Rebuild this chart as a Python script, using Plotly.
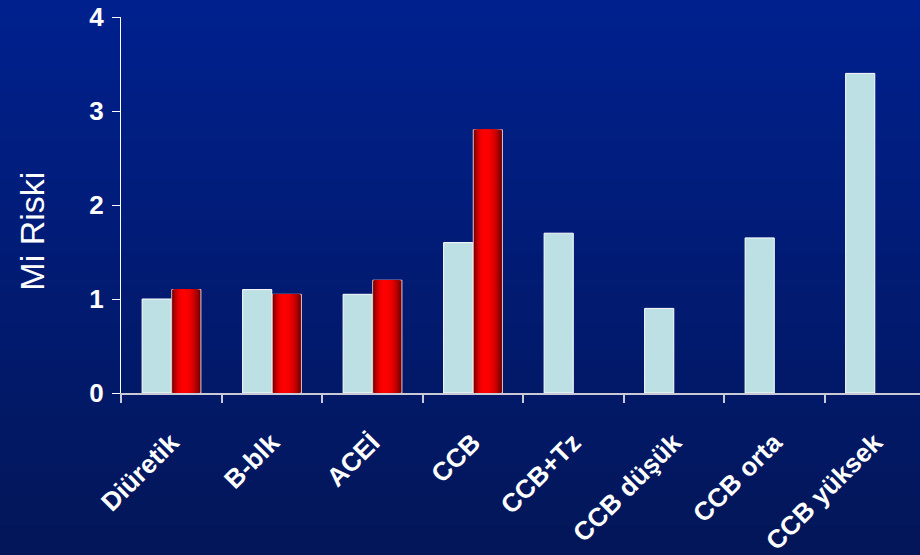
import plotly.graph_objects as go

# Drug classes and MI risk values
categories = ["Diüretik", "B-blk", "ACEİ", "CCB", "CCB+Tz", "CCB düşük", "CCB orta", "CCB yüksek"]
risk_light = [1.0, 1.1, 1.05, 1.6, 1.7, 0.9, 1.65, 3.4]
risk_red = [1.1, 1.05, 1.2, 2.8, None, None, None, None]
y_ticks = [0, 1, 2, 3, 4]

BAR_W = 0.29
LIGHT = "#bde0e4"
FONT = "Liberation Sans, Arial, sans-serif"

fig = go.Figure()

# light bars, left slot of each category
fig.add_trace(go.Bar(
    x=categories, y=risk_light, width=BAR_W, offset=-BAR_W,
    marker=dict(color=LIGHT, line=dict(color="#ffffff", width=1)),
    hoverinfo="skip", showlegend=False,
))

# red bars in the right slot, shaded like a cylinder with nested layers
N = 16
dark = (105, 0, 0)
bright = (255, 0, 0)
left = 0.005
for k in range(N):
    d = 1 - k / N            # half-width fraction of this layer
    t = 1 - d ** 2.4         # brightness rises towards the middle
    w = BAR_W * d
    mid = left + BAR_W * (0.5 - 0.1 * (1 - d))
    col = tuple(int(dark[i] + (bright[i] - dark[i]) * t) for i in range(3))
    line = dict(color="#f0c8c8", width=1) if k == 0 else dict(width=0)
    fig.add_trace(go.Bar(
        x=categories, y=risk_red, width=w, offset=mid - w / 2,
        marker=dict(color="rgb(%d,%d,%d)" % col, line=line),
        hoverinfo="skip", showlegend=False,
    ))

# vertical background gradient over the whole page
shapes = []
S = 90
top = (0, 32, 142)
bot = (3, 22, 88)
y_top, y_bot = 1.05, -0.44
for i in range(S):
    f = i / (S - 1)
    c = tuple(int(round(top[j] + (bot[j] - top[j]) * f)) for j in range(3))
    ya = y_top - (y_top - y_bot) * i / S
    yb = y_top - (y_top - y_bot) * (i + 1) / S
    shapes.append(dict(
        type="rect", xref="paper", yref="paper", x0=-0.2, x1=1.05,
        y0=yb - 0.002, y1=ya, fillcolor="rgb(%d,%d,%d)" % c,
        line=dict(width=0), layer="below",
    ))

fig.update_layout(
    width=920, height=555,
    margin=dict(l=121, r=0, t=17, b=162),
    barmode="overlay",
    paper_bgcolor="rgb(2,26,110)",
    plot_bgcolor="rgba(0,0,0,0)",
    shapes=shapes,
    font=dict(family=FONT, color="white"),
    annotations=[dict(
        text="Mi Riski", textangle=-90, showarrow=False,
        xref="paper", yref="paper", x=-0.111, y=0.43,
        xanchor="center", yanchor="middle",
        font=dict(family=FONT, size=34, color="white"),
    )],
)

fig.update_xaxes(
    type="category", range=[-0.5, 7.45],
    tickson="boundaries", ticks="outside", ticklen=8, tickwidth=1.5,
    tickcolor="#c8cad8", showline=True, linecolor="#c8cad8", linewidth=2,
    showgrid=False, zeroline=False, tickangle=-45,
    tickfont=dict(family=FONT, size=26, color="white", weight="bold"),
    ticklabelstandoff=22,
)
fig.update_yaxes(
    range=[0, 4], tickvals=y_ticks, ticktext=[str(v) for v in y_ticks],
    ticks="outside", ticklen=8, tickwidth=1, tickcolor="white",
    showline=True, linecolor="white", linewidth=1,
    showgrid=False, zeroline=False,
    tickfont=dict(family=FONT, size=26, color="white", weight="bold"),
    ticklabelstandoff=3,
)

fig.write_html("out.html")
